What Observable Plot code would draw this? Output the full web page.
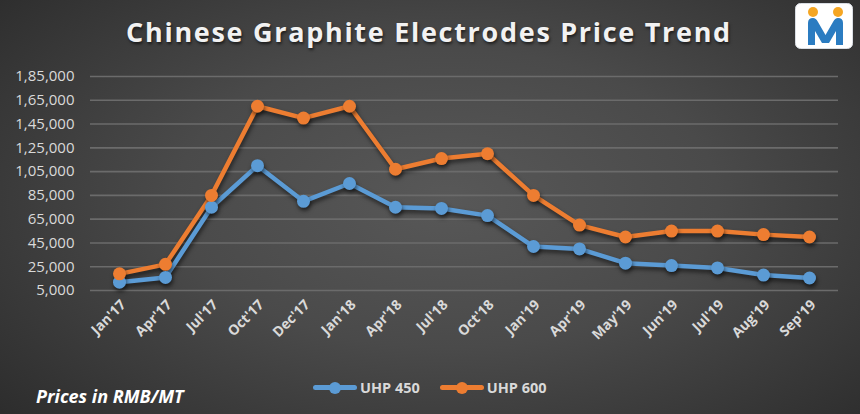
<!DOCTYPE html>
<html>
<head>
<meta charset="utf-8">
<script src="https://cdn.jsdelivr.net/npm/d3@7"></script>
<script src="https://cdn.jsdelivr.net/npm/@observablehq/plot@0.6"></script>
<style>
  html, body { margin: 0; padding: 0; background: #333; }
  #wrap {
    position: relative; width: 860px; height: 414px; overflow: hidden;
    background: radial-gradient(ellipse 70% 80% at 52% 48%, #585858 0%, #4a4a4a 45%, #2c2c2c 100%);
    font-family: "Open Sans", sans-serif;
  }
  #title {
    position: absolute; left: 0; top: 13px; width: 858px; text-align: center;
    color: #f2f2f2; font-weight: 700; font-size: 27px; letter-spacing: 1.7px;
    text-shadow: 1px 2px 3px rgba(0,0,0,0.6);
  }
  #chart { position: absolute; left: 0; top: 0; }
  #chart g[aria-label="line"], #chart g[aria-label="dot"] { filter: drop-shadow(1px 3px 2px rgba(0,0,0,0.55)); }
  #legend {
    position: absolute; top: 378px; left: 313px; display: flex; align-items: center;
    color: #d9d9d9; font-weight: 700; font-size: 14.5px;
  }
  .key { display: flex; align-items: center; margin-right: 20px; }
  .sw { position: relative; width: 44px; height: 5px; border-radius: 3px; margin-right: 3px; }
  .sw::after { content: ""; position: absolute; left: 16px; top: -3.5px; width: 12px; height: 12px; border-radius: 50%; background: inherit; }
  #note {
    position: absolute; left: 36px; top: 384px; color: #ffffff; font-weight: 700;
    font-style: italic; font-size: 18px;
  }
  #logo { position: absolute; left: 795px; top: 3px; }
</style>
</head>
<body>
<div id="wrap">
  <div id="title">Chinese Graphite Electrodes Price Trend</div>
  <div id="chart"></div>
  <div id="legend"></div>
  <div id="note">Prices in RMB/MT</div>
  <svg id="logo" width="58" height="46" viewBox="0 0 58 46">
    <rect x="0.5" y="0.5" width="57" height="45" rx="5" fill="#ffffff" stroke="#d9dde3"/>
    <circle cx="18" cy="9" r="5" fill="#f5a623"/>
    <circle cx="43" cy="9" r="5" fill="#f5a623"/>
    <path d="M13 42 L13 20 Q13 15 18 15 Q21 15 23 19 L30.5 32 L38 19 Q40 15 43 15 Q48 15 48 20 L48 42 L41 42 L41 28 L34 40 L27 40 L20 28 L20 42 Z" fill="#2b7cc1"/>
  </svg>
</div>
<script>
const months = ["Jan'17","Apr'17","Jul'17","Oct'17","Dec'17","Jan'18","Apr'18","Jul'18","Oct'18","Jan'19","Apr'19","May'19","Jun'19","Jul'19","Aug'19","Sep'19"];
const uhp450 = [12000,16000,75000,110000,80000,95000,75000,74000,68000,42000,40000,28000,26000,24000,18000,15500];
const uhp600 = [19000,27000,85000,160000,150000,160000,107000,116000,120000,85000,60000,50000,55000,55000,52000,50000];
const seriesNames = ["UHP 450","UHP 600"];
const seriesColors = ["#5b9bd5","#ed7d31"];
const yTicks = [5000,25000,45000,65000,85000,105000,125000,145000,165000,185000];
const yTickLabels = ["5,000","25,000","45,000","65,000","85,000","1,05,000","1,25,000","1,45,000","1,65,000","1,85,000"];

const rows = [];
months.forEach((m, i) => {
  rows.push({month: m, value: uhp450[i], series: seriesNames[0]});
  rows.push({month: m, value: uhp600[i], series: seriesNames[1]});
});

const chart = Plot.plot({
  width: 860,
  height: 360,
  marginTop: 76,
  marginBottom: 70,
  marginLeft: 90,
  marginRight: 22,
  style: {background: "transparent", fontFamily: "Open Sans, sans-serif", overflow: "visible"},
  x: {type: "point", domain: months, padding: 0.5},
  y: {domain: [5000, 185000]},
  color: {domain: seriesNames, range: seriesColors},
  marks: [
    Plot.ruleY(yTicks, {stroke: "#6b6b6b", strokeWidth: 1.6}),
    Plot.axisY({ticks: yTicks, tickFormat: (d) => yTickLabels[yTicks.indexOf(d)], tickSize: 0, tickPadding: 16, fontSize: 15, fill: "#d9d9d9", label: null}),
    Plot.axisX({tickRotate: -45, tickSize: 0, tickPadding: 12, dx: 4, fontSize: 14, fontWeight: 700, fill: "#d9d9d9", label: null}),
    Plot.line(rows, {x: "month", y: "value", z: "series", stroke: "series", strokeWidth: 4.5, strokeLinejoin: "round"}),
    Plot.dot(rows, {x: "month", y: "value", fill: "series", r: 6.5})
  ]
});
document.getElementById("chart").appendChild(chart);

const legend = document.getElementById("legend");
seriesNames.forEach((n, i) => {
  const k = document.createElement("div");
  k.className = "key";
  const s = document.createElement("div");
  s.className = "sw";
  s.style.background = seriesColors[i];
  const t = document.createElement("span");
  t.textContent = n;
  k.appendChild(s); k.appendChild(t);
  legend.appendChild(k);
});
</script>
</body>
</html>
